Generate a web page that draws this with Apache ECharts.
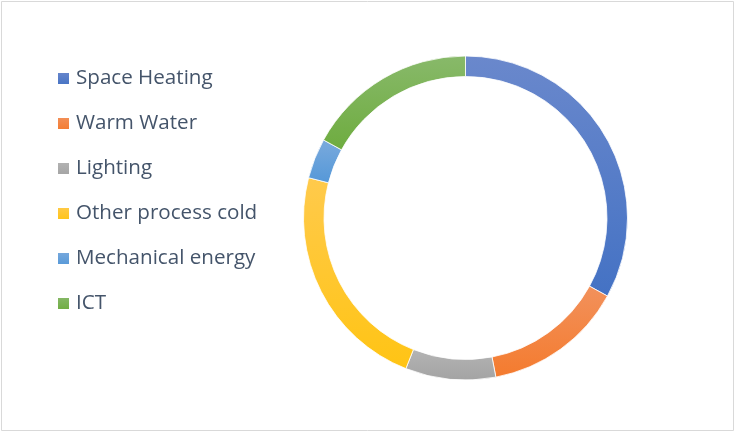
<!DOCTYPE html>
<html>
<head>
<meta charset="utf-8">
<script src="https://cdn.jsdelivr.net/npm/echarts@6/dist/echarts.min.js"></script>
<style>
  html, body { margin: 0; padding: 0; background: #ffffff; }
  #chart { width: 735px; height: 432px; }
</style>
</head>
<body>
<div id="chart"></div>
<script>
// Final energy use by application (share, %)
const categories = ['Space Heating', 'Warm Water', 'Lighting', 'Other process cold', 'Mechanical energy', 'ICT'];
const shares = [33, 14, 9, 23, 4, 17];

// Slice fill: lighter tone at the top of each slice, base tone at the bottom
const topColors = ['#6A88CC', '#F2915C', '#B4B4B4', '#FFCA4C', '#7AAADD', '#88B96A'];
const baseColors = ['#4472C4', '#F47B2E', '#A3A3A3', '#FFC414', '#5598D8', '#6EAC3F'];

function gradient(i) {
  return new echarts.graphic.LinearGradient(0, 0, 0, 1, [
    { offset: 0, color: topColors[i] },
    { offset: 1, color: baseColors[i] }
  ]);
}

const chart = echarts.init(document.getElementById('chart'), null, { renderer: 'canvas' });

chart.setOption({
  animation: false,
  backgroundColor: '#ffffff',
  color: baseColors,
  graphic: [{
    type: 'rect',
    shape: { x: 1.5, y: 1.5, width: 732, height: 429 },
    style: { fill: 'none', stroke: '#D9D9D9', lineWidth: 1 },
    silent: true
  }],
  legend: {
    orient: 'vertical',
    left: 56,
    top: 68,
    padding: 0,
    itemWidth: 13,
    itemHeight: 13,
    itemGap: 24,
    icon: 'rect',
    selectedMode: false,
    data: categories,
    textStyle: {
      fontFamily: 'Open Sans',
      fontSize: 20.6,
      lineHeight: 20,
      color: '#44546A',
      padding: [0, 0, 0, 1]
    }
  },
  series: [{
    type: 'pie',
    center: [465.5, 218],
    radius: [141.5, 162],
    startAngle: 90,
    clockwise: true,
    label: { show: false },
    labelLine: { show: false },
    emphasis: { disabled: true },
    itemStyle: { borderColor: '#ffffff', borderWidth: 0.8 },
    data: categories.map((name, i) => ({
      name: name,
      value: shares[i],
      itemStyle: { color: gradient(i) }
    }))
  }]
});
</script>
</body>
</html>
